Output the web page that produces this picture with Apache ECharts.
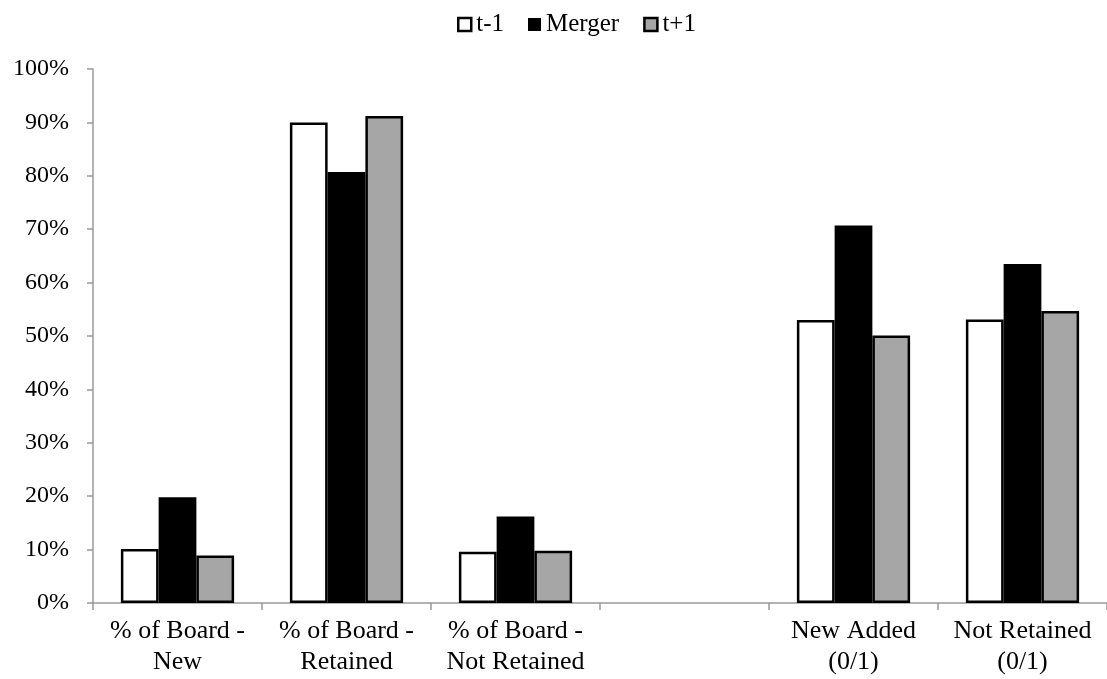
<!DOCTYPE html>
<html>
<head>
<meta charset="utf-8">
<script src="https://cdn.jsdelivr.net/npm/echarts@6/dist/echarts.min.js"></script>
<style>
html,body{margin:0;padding:0;background:#fff;}
#c{width:1107px;height:679px;}
</style>
</head>
<body>
<div id="c"></div>
<script>
var categories = ['% of Board -\nNew', '% of Board -\nRetained', '% of Board -\nNot Retained', '', 'New Added\n(0/1)', 'Not Retained\n(0/1)'];
var seriesNames = ['t-1', 'Merger', 't+1'];
var tMinus1 = [10.1, 90.0, 9.6, null, 53.0, 53.1];
var merger = [19.8, 80.7, 16.2, null, 70.7, 63.5];
var tPlus1 = [8.9, 91.2, 9.8, null, 50.1, 54.7];
var yTicks = [0, 10, 20, 30, 40, 50, 60, 70, 80, 90, 100];

var FONT = 'Liberation Serif';
var chart = echarts.init(document.getElementById('c'), null, {renderer: 'canvas'});
var axisGray = '#999999';
var styles = [
  {color: '#ffffff', borderColor: '#000', borderWidth: 2.5},
  {color: '#000000', borderColor: '#000', borderWidth: 0},
  {color: '#a6a6a6', borderColor: '#000', borderWidth: 2.5}
];
chart.setOption({
  animation: false,
  backgroundColor: '#ffffff',
  textStyle: {fontFamily: FONT, color: '#000'},
  legend: {
    top: 7,
    left: 452,
    itemWidth: 13,
    itemHeight: 13,
    itemGap: 24,
    icon: 'rect',
    textStyle: {fontFamily: FONT, fontSize: 25, color: '#000'},
    data: seriesNames.map(function (n, i) {
      return {name: n, itemStyle: {color: styles[i].color, borderColor: '#000', borderWidth: i === 1 ? 0 : 2.5}};
    })
  },
  grid: {left: 93, right: -10, top: 69, bottom: 76, containLabel: false},
  xAxis: {
    type: 'category',
    data: categories,
    axisLine: {lineStyle: {color: axisGray, width: 1.5}},
    axisTick: {show: true, length: 7, lineStyle: {color: axisGray, width: 1.5}},
    axisLabel: {fontFamily: FONT, fontSize: 26, color: '#000', lineHeight: 31, margin: 13, interval: 0}
  },
  yAxis: {
    type: 'value',
    min: yTicks[0],
    max: yTicks[yTicks.length - 1],
    interval: 10,
    splitLine: {show: false},
    axisLine: {show: true, lineStyle: {color: axisGray, width: 1.5}},
    axisTick: {show: true, length: 6, lineStyle: {color: axisGray, width: 1.5}},
    axisLabel: {fontFamily: FONT, fontSize: 24, color: '#000', margin: 24, formatter: '{value}%'}
  },
  series: [
    {name: seriesNames[0], type: 'bar', data: tMinus1, barGap: '0%', barCategoryGap: '33%', itemStyle: styles[0]},
    {name: seriesNames[1], type: 'bar', data: merger, barGap: '0%', barCategoryGap: '33%', itemStyle: styles[1]},
    {name: seriesNames[2], type: 'bar', data: tPlus1, barGap: '0%', barCategoryGap: '33%', itemStyle: styles[2]}
  ]
});
</script>
</body>
</html>
